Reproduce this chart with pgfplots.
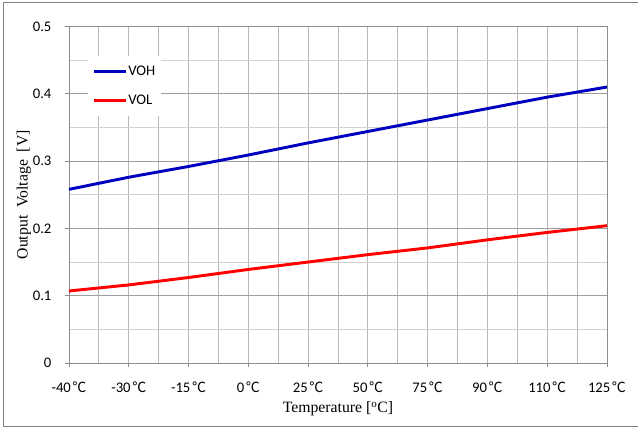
\documentclass[border=0pt]{standalone}
\usepackage{fontspec}
\setmainfont{Liberation Serif}
\newfontfamily\carlito{Carlito}
\newfontfamily\cjk{Noto Sans CJK JP}
\usepackage{pgfplots}
\pgfplotsset{compat=1.18}
\definecolor{voh}{RGB}{0,0,192}
\definecolor{vol}{RGB}{255,0,0}
\newcommand\dc{\hspace{1.2pt}{\cjk\fontsize{10.5}{12}\selectfont ℃}}
\begin{document}
\begin{tikzpicture}
\useasboundingbox (-51.75pt,-48.75pt) rectangle (426.75pt,272.25pt);
\draw[color=black!50, line width=0.6pt] (426.75pt,270.75pt) -- (-49.5pt,270.75pt) -- (-49.5pt,-47.25pt) -- (426.75pt,-47.25pt);
\begin{axis}[
  scale only axis,
  width=403.5pt, height=252.4pt,
  xmin=0, xmax=9, ymin=0, ymax=0.5,
  xtick={0,...,9},
  xticklabels={-40\dc,-30\dc,-15\dc,0\dc,25\dc,50\dc,75\dc,90\dc,110\dc,125\dc},
  minor x tick num=1,
  ytick={0,0.1,0.2,0.3,0.4,0.5},
  yticklabels={0,0.1,0.2,0.3,0.4,0.5},
  minor y tick num=1,
  grid=both,
  major x grid style={color=black!28, line width=0.6pt},
  minor x grid style={color=black!28, line width=0.6pt},
  major y grid style={color=black!38, line width=0.6pt},
  minor y grid style={color=black!18, line width=0.6pt},
  axis line style={color=black!45, line width=0.6pt},
  tick align=outside,
  major tick length=3pt,
  minor tick length=0pt,
  tick style={color=black!45, line width=0.6pt},
  xtick pos=bottom, ytick pos=left,
  ticklabel style={font=\carlito\fontsize{11}{13}\selectfont, inner sep=0pt},
  yticklabel style={anchor=east, xshift=-10pt},
  xticklabel style={anchor=base, yshift=-19pt},
  xlabel={Temperature [\textsuperscript{o}C]},
  ylabel={Output\ \ Voltage\ \ [V]},
  label style={font=\fontsize{11.8}{14}\selectfont},
  xlabel style={at={(axis description cs:0.5,0)}, anchor=center, yshift=-34.5pt},
  ylabel style={at={(axis description cs:-0.084,0.5)}, anchor=center},
  legend style={at={(rel axis cs:0.035,0.912)}, anchor=north west, draw=none, fill=white,
    font=\carlito\fontsize{11}{13}\selectfont, inner xsep=3pt, inner ysep=6pt,
    row sep=11.5pt, nodes={inner sep=1pt}},
  legend cell align=left,
  legend image code/.code={\draw[#1] (0pt,0pt) -- (24pt,0pt);},
]
\addplot[voh, line width=2.2pt] coordinates {
(0,0.258) (1,0.276) (2,0.292) (3,0.309) (4,0.327) (5,0.344) (6,0.361) (7,0.378) (8,0.395) (9,0.410)};
\addlegendentry{VOH}
\addplot[vol, line width=2.2pt] coordinates {
(0,0.107) (1,0.116) (2,0.127) (3,0.139) (4,0.150) (5,0.161) (6,0.171) (7,0.183) (8,0.194) (9,0.204)};
\addlegendentry{VOL}
\end{axis}
\end{tikzpicture}
\end{document}
